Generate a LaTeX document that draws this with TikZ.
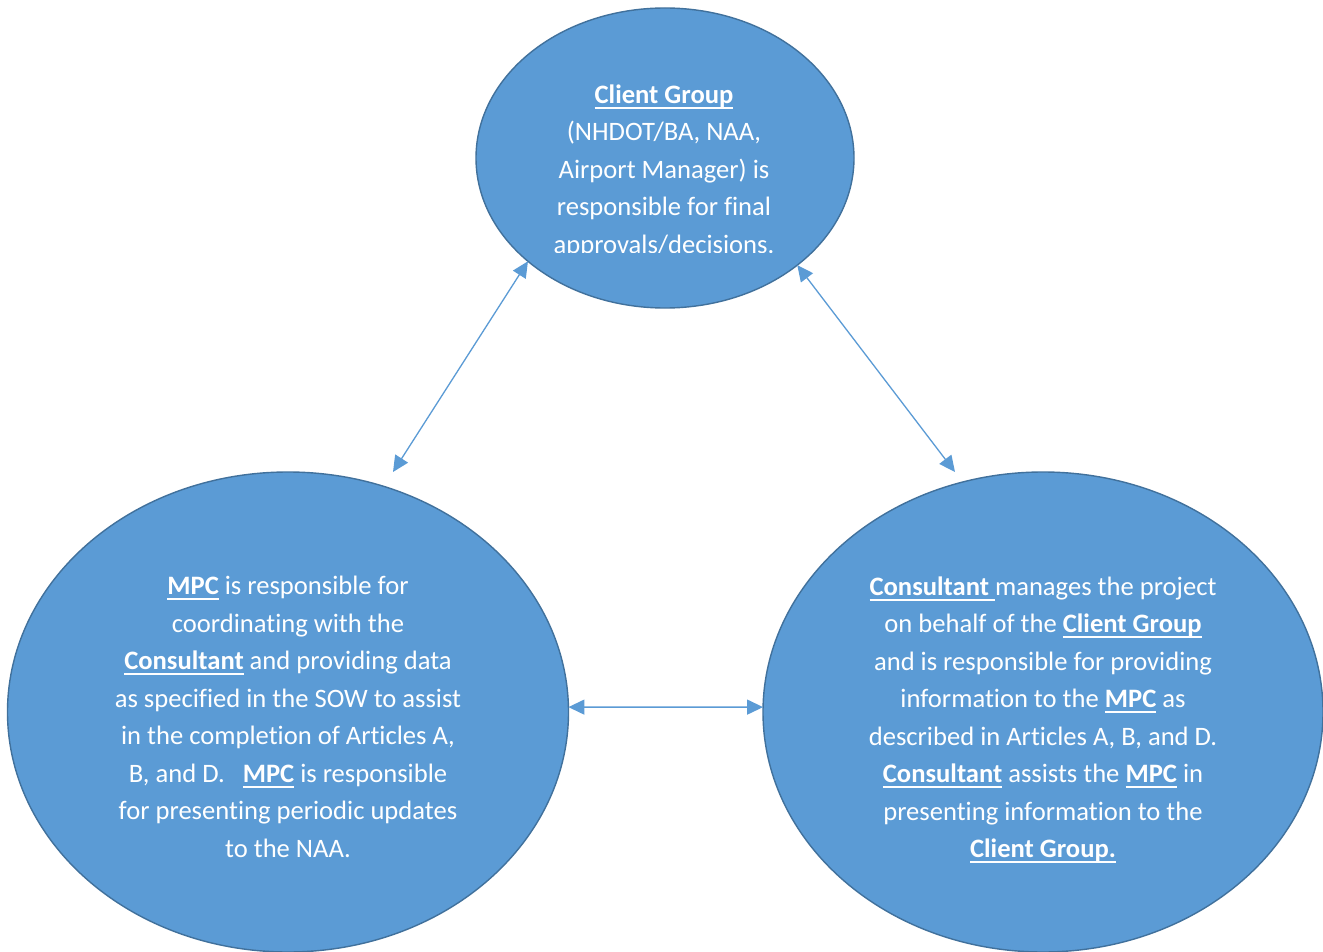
\documentclass[tikz,border=0pt]{standalone}
\usepackage{fontspec}
\setmainfont[Ligatures=NoCommon]{Carlito}
\usetikzlibrary{shapes.geometric,arrows.meta}
\definecolor{bubblefill}{HTML}{5B9BD5}
\definecolor{bubbleline}{HTML}{41719C}
% bold underlined key word, underline at a fixed depth
\newsavebox\keybox
\newcommand\ukey[1]{\sbox\keybox{\textbf{#1}}\rlap{\rule[-5.5pt]{\wd\keybox}{1.9pt}}\usebox\keybox}
\begin{document}
\begin{tikzpicture}[x=1pt, y=-1pt,
  bubble/.style = {ellipse, draw = bubbleline, fill = bubblefill, line width = 1.4pt,
    inner sep = 0pt, outer sep = 0pt},
  bubtext/.style = {text = white, align = center, inner sep = 0pt,
    font = \fontsize{26.6}{37.5}\selectfont},
  link/.style = {draw = bubblefill, line width = 1.3pt,
    {Triangle[length = 16pt, width = 15pt]}-{Triangle[length = 16pt, width = 15pt]}}]
\clip (0,0) rectangle (1323,952);
\fill[white] (0,0) rectangle (1323,952);
\node[bubble, minimum width = 378pt, minimum height = 300pt] (client) at (665,158) {};
\node[bubble, minimum width = 561pt, minimum height = 480pt] (mpc) at (288,712) {};
\node[bubble, minimum width = 560pt, minimum height = 480pt] (consult) at (1043,712) {};
\begin{scope}
  \clip (0,0) rectangle (1323,253);
  \node[bubtext] (clienttxt) at (664,171) {\ukey{Client Group}\\(NHDOT/BA, NAA,\\Airport Manager) is\\responsible for final\\approvals/decisions.};
\end{scope}
\node[bubtext] (mpctxt) at (288,717) {\ukey{MPC} is responsible for\\coordinating with the\\\ukey{Consultant} and providing data\\as specified in the SOW to assist\\in the completion of Articles A,\\B, and D.\ \ \ \ukey{MPC} is responsible\\for presenting periodic updates\\to the NAA.};
\node[bubtext] (consulttxt) at (1043,720) {\ukey{Consultant }manages the project\\on behalf of the \ukey{Client Group}\\and is responsible for providing\\information to the \ukey{MPC} as\\described in Articles A, B, and D.\\\ukey{Consultant} assists the \ukey{MPC} in\\presenting information to the\\\ukey{Client Group.}};
\coordinate (mpc-top) at (393,472);
\coordinate (consult-top) at (955,472);
\draw[link] (client.217) -- (mpc-top);
\draw[link] (client.321) -- (consult-top);
\draw[link] (mpc.1) -- (consult.179);
\end{tikzpicture}
\end{document}
